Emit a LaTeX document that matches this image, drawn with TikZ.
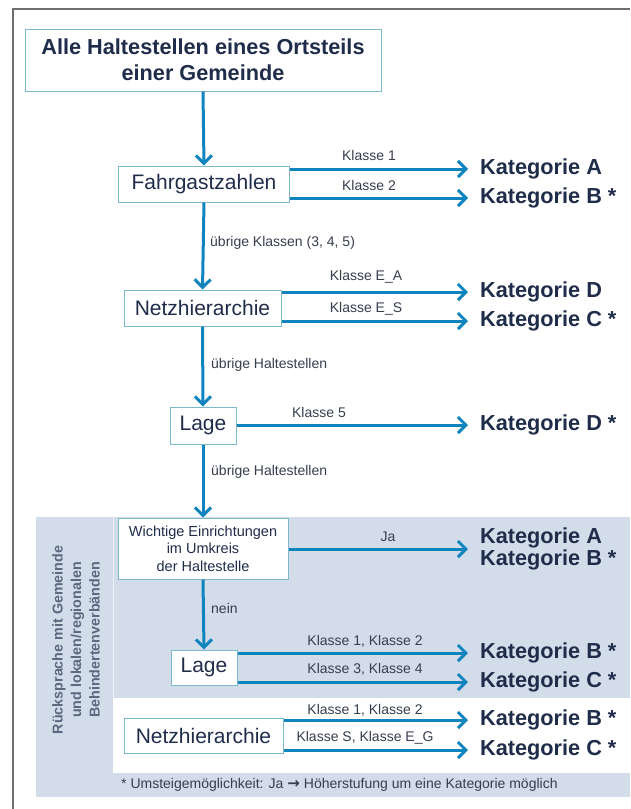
\documentclass[tikz,border=0pt]{standalone}
\usepackage{fontspec}
\setmainfont{Liberation Sans}
\newfontfamily\dejavu{DejaVu Sans}
\usetikzlibrary{arrows.meta}
\definecolor{arrowblue}{RGB}{16,132,190}
\definecolor{boxborder}{RGB}{125,185,204}
\definecolor{regionblue}{RGB}{211,221,234}
\definecolor{navy}{RGB}{31,45,75}
\definecolor{labelgray}{RGB}{55,62,78}
\definecolor{vertgray}{RGB}{90,104,128}
\definecolor{framegray}{RGB}{110,110,110}
\tikzset{
  flowbox/.style={draw=boxborder, line width=1pt, fill=white, inner sep=0pt, text=navy,
    font=\fontsize{21}{24}\selectfont},
  kat/.style={anchor=west, inner sep=0pt, text=navy, font=\bfseries\fontsize{21.7}{22}\selectfont, align=left},
  lbl/.style={inner sep=0pt, text=labelgray, font=\fontsize{14}{16}\selectfont},
  flow/.style={draw=arrowblue, line width=3pt, -{Straight Barb[length=8pt,width=16pt]}},
}
\begin{document}
\begin{tikzpicture}[x=1pt,y=-1pt]
\useasboundingbox (0,0) rectangle (630,809);
\fill[white] (0,0) rectangle (630,809);
% outer frame (cut off right and bottom)
\draw[framegray, line width=2pt] (13,809) -- (13,9) -- (630,9);
% shaded region
\fill[regionblue] (36,517) rectangle (630,797);
\draw[white!55!regionblue, line width=1pt] (113,517) -- (113,698);
\fill[white] (113,698) rectangle (630,773);

% boxes
\node[flowbox, minimum width=356pt, minimum height=62pt, align=center,
      font=\bfseries\fontsize{21.7}{26}\selectfont] (title) at (203,60)
      {Alle Haltestellen eines Ortsteils\\einer Gemeinde};
\node[flowbox, minimum width=171pt, minimum height=36pt] (fz) at (204,184) {Fahrgastzahlen};
\node[flowbox, minimum width=157pt, minimum height=36pt] (netz) at (202.5,308) {Netzhierarchie};
\node[flowbox, minimum width=66pt, minimum height=37pt] (lage) at (203,425.5) {Lage};
\node[flowbox, minimum width=170pt, minimum height=61pt, align=center,
      font=\fontsize{14.5}{17.5}\selectfont] (wich) at (203,548.5)
      {Wichtige Einrichtungen\\im Umkreis\\der Haltestelle};
\node[flowbox, minimum width=66pt, minimum height=35pt] (lage2) at (204,667.5) {Lage};
\node[flowbox, minimum width=159pt, minimum height=35pt] (netz2) at (203.5,735.5) {Netzhierarchie};

% Kategorie nodes
\node[kat] (k1) at (480,169) {Kategorie A};
\node[kat] (k2) at (480,198) {Kategorie B *};
\node[kat] (k3) at (480,292) {Kategorie D};
\node[kat] (k4) at (480,321) {Kategorie C *};
\node[kat] (k5) at (480,425) {Kategorie D *};
\node[kat] (k6) at (480,549) {Kategorie A\\Kategorie B *};
\node[kat] (k7) at (480,653) {Kategorie B *};
\node[kat] (k8) at (480,682) {Kategorie C *};
\node[kat] (k9) at (480,720) {Kategorie B *};
\node[kat] (k10) at (480,750) {Kategorie C *};

% vertical flow
\draw[flow] (title.south) -- (fz.north);
\draw[flow] (fz.south) -- (netz.north);
\draw[flow] (netz.south) -- (lage.north);
\draw[flow] (lage.south) -- (wich.north);
\draw[flow] (wich.south) -- (lage2.north);

% horizontal flows
\draw[flow] (fz.east |- k1.west) -- ([xshift=-12pt]k1.west);
\draw[flow] (fz.east |- k2.west) -- ([xshift=-12pt]k2.west);
\draw[flow] (netz.east |- k3.west) -- ([xshift=-12pt]k3.west);
\draw[flow] (netz.east |- k4.west) -- ([xshift=-12pt]k4.west);
\draw[flow] (lage.east |- k5.west) -- ([xshift=-12pt]k5.west);
\draw[flow] (wich.east |- k6.west) -- ([xshift=-12pt]k6.west);
\draw[flow] (lage2.east |- k7.west) -- ([xshift=-12pt]k7.west);
\draw[flow] (lage2.east |- k8.west) -- ([xshift=-12pt]k8.west);
\draw[flow] (netz2.east |- k9.west) -- ([xshift=-12pt]k9.west);
\draw[flow] (netz2.east |- k10.west) -- ([xshift=-12pt]k10.west);

% labels
\node[lbl] (l1) at (369,155) {Klasse 1};
\node[lbl] (l2) at (369,185) {Klasse 2};
\node[lbl, anchor=west] (l3) at (210,243) {übrige Klassen (3, 4, 5)};
\node[lbl] (l4) at (366,277) {Klasse E\_A};
\node[lbl] (l5) at (366,309) {Klasse E\_S};
\node[lbl, anchor=west] (l6) at (211,365) {übrige Haltestellen};
\node[lbl] (l7) at (319,412) {Klasse 5};
\node[lbl, anchor=west] (l8) at (211,472) {übrige Haltestellen};
\node[lbl] (l9) at (388,537) {Ja};
\node[lbl, anchor=west] (l10) at (211,608) {nein};
\node[lbl] (l11) at (365,641) {Klasse 1, Klasse 2};
\node[lbl] (l12) at (365,669) {Klasse 3, Klasse 4};
\node[lbl] (l13) at (365,710) {Klasse 1, Klasse 2};
\node[lbl] (l14) at (365,738) {Klasse S, Klasse E\_G};
\node[lbl, anchor=west] (foot) at (121,785) {* Umsteigemöglichkeit: Ja {\dejavu\bfseries\fontsize{15}{16}\selectfont →} Höherstufung um eine Kategorie möglich};

% vertical side text
\node[rotate=90, align=center, inner sep=0pt, text=vertgray,
      font=\bfseries\fontsize{14.3}{18.5}\selectfont] (side) at (76,640)
      {Rücksprache mit Gemeinde\\und lokalen/regionalen\\Behindertenverbänden};
\end{tikzpicture}
\end{document}
